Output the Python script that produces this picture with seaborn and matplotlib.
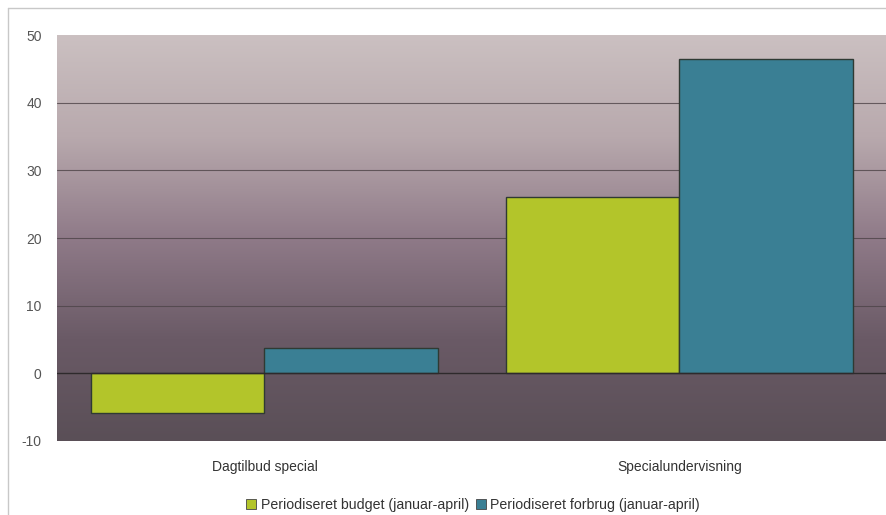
import matplotlib
matplotlib.use("Agg")
import matplotlib.pyplot as plt
import seaborn as sns
import numpy as np
import pandas as pd
from matplotlib.colors import LinearSegmentedColormap
from matplotlib.patches import Rectangle

categories = ["Dagtilbud special", "Specialundervisning"]
budget = [-5.8, 26.1]
forbrug = [3.8, 46.4]
series = ["Periodiseret budget (januar-april)", "Periodiseret forbrug (januar-april)"]
colors = ["#b3c52a", "#3a7f94"]
yticks = [-10, 0, 10, 20, 30, 40, 50]

df = pd.DataFrame({
    "cat": categories * 2,
    "val": budget + forbrug,
    "series": [series[0]] * 2 + [series[1]] * 2,
})

sns.set_theme(style="white")
plt.rcParams['font.family'] = ['Liberation Sans', 'DejaVu Sans']

fig = plt.figure(figsize=(8.87, 5.15), dpi=100)
W, H = 887, 515
ax = fig.add_axes([57 / W, (H - 441) / H, 830 / W, (441 - 35) / H])

# gradient background (dark at bottom, light at top)
cmap = LinearSegmentedColormap.from_list(
    "bg", ["#5a4f57", "#6a5a66", "#8f7a88", "#b8a9ad", "#cbc0c1"])
grad = np.linspace(0, 1, 256).reshape(-1, 1)
ax.imshow(grad, aspect="auto", cmap=cmap, extent=[-0.5, 1.5, -10, 50],
          zorder=0, origin="lower")

for y in [10, 20, 30, 40]:
    ax.axhline(y, color="#4e4448", lw=0.8, zorder=1, alpha=0.8)
ax.axhline(0, color="#2e2a2c", lw=1.0, zorder=3)

sns.barplot(data=df, x="cat", y="val", hue="series", palette=colors,
            width=0.834, edgecolor="#2f3a33", linewidth=1.0, ax=ax,
            legend=False, zorder=2, saturation=1)

ax.set_xlim(-0.5, 1.5)
ax.set_ylim(-10, 50)
ax.set_yticks(yticks)
ax.set_yticklabels([str(t) for t in yticks], color="#555555", fontsize=10)
ax.tick_params(axis="y", length=3, color="#888888", pad=8)
ax.tick_params(axis="x", length=0, pad=14, labelsize=10, labelcolor="#333333")
ax.set_xlabel("")
ax.set_ylabel("")
for s in ax.spines.values():
    s.set_visible(False)

# legend
handles = [Rectangle((0, 0), 1, 1, facecolor=c, edgecolor="#444444", lw=0.6) for c in colors]
fig.legend(handles, series, loc="center", bbox_to_anchor=(473 / W, 1 - 505 / H),
           ncol=2, frameon=False, fontsize=10.2, handlelength=0.7, handleheight=0.7,
           handletextpad=0.3, columnspacing=0.5, labelcolor="#333333")

# outer border lines
fig.add_artist(plt.Line2D([8 / W, 8 / W], [0, 1 - 8 / H], color="#c8c8c8", lw=1))
fig.add_artist(plt.Line2D([8 / W, 1], [1 - 8 / H, 1 - 8 / H], color="#c8c8c8", lw=1))

fig.savefig("out.png", dpi=100)
